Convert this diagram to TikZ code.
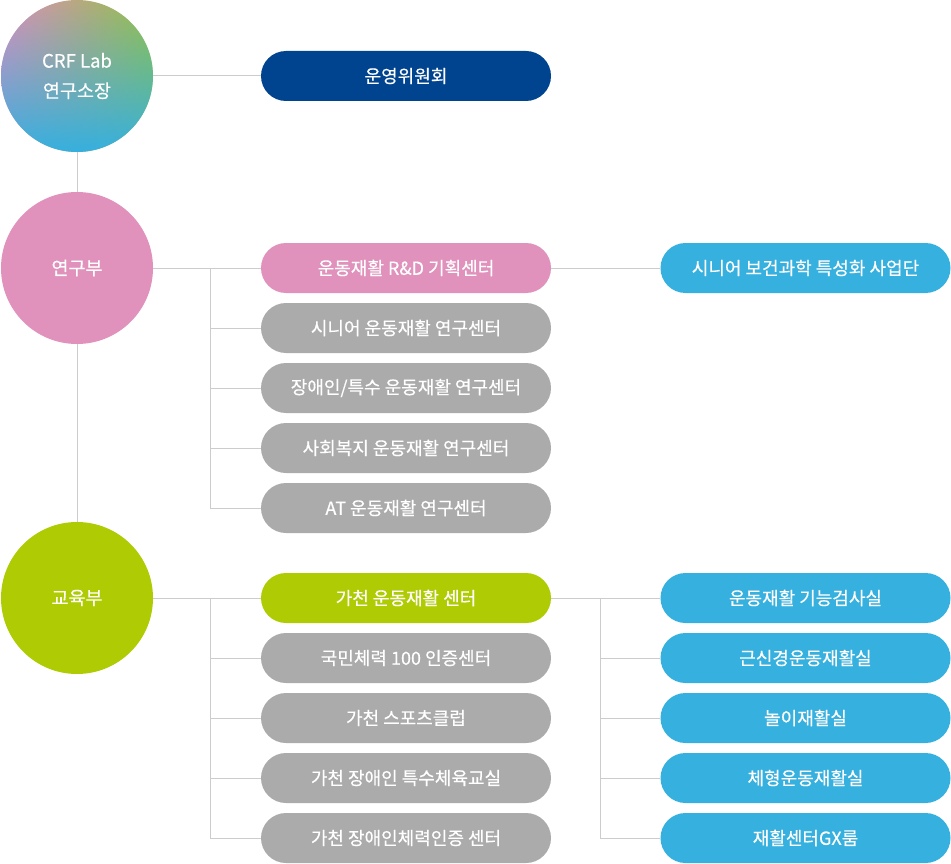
\documentclass[tikz,border=0pt]{standalone}
\usepackage{fontspec}
\setmainfont{Noto Sans CJK KR}[FakeBold=0.4]
\usetikzlibrary{fadings}
\definecolor{cline}{HTML}{CCCCCC}
\definecolor{cnavy}{HTML}{00438F}
\definecolor{cpink}{HTML}{E091BC}
\definecolor{cgray}{HTML}{ABABAB}
\definecolor{cgreen}{HTML}{AFCB03}
\definecolor{cblue}{HTML}{35B0DF}
\definecolor{gpink}{HTML}{E08DBE}
\definecolor{gmid}{HTML}{C9A48F}
\definecolor{ggreen}{HTML}{92C443}
\tikzfading[name=fadeup, top color=transparent!100, middle color=transparent!72, bottom color=transparent!0]
\begin{document}
\begin{tikzpicture}[x=1pt,y=-1pt,
  conn/.style={draw=cline, line width=1pt},
  pill/.style={rounded corners=25pt, minimum width=290pt, minimum height=50pt, inner sep=0pt, text=white, font=\fontsize{18}{20}\selectfont},
  circ/.style={circle, minimum size=152pt, inner sep=0pt, text=white, align=center, font=\fontsize{18.5}{30}\selectfont}]
\useasboundingbox (0,0) rectangle (951,864);
% gradient circle
\begin{scope}
  \clip (77,76) circle (76pt);
  \shade[left color=gpink, middle color=gmid, right color=ggreen] (0,0) rectangle (154,153);
  \fill[cblue, path fading=fadeup] (0,0) rectangle (154,153);
\end{scope}
\node[circ] (top) at (77,76) {CRF Lab\\연구소장};
\node[circ, fill=cpink] (res) at (77,268) {연구부};
\node[circ, fill=cgreen] (edu) at (77,598) {교육부};
% left column
\node[pill, fill=cnavy] (ops) at (406,76) {운영위원회};
\node[pill, fill=cpink] (rd) at (406,268) {운동재활 R\&D 기획센터};
\node[pill, fill=cgray] (r2) at (406,328) {시니어 운동재활 연구센터};
\node[pill, fill=cgray] (r3) at (406,388) {장애인/특수 운동재활 연구센터};
\node[pill, fill=cgray] (r4) at (406,448) {사회복지 운동재활 연구센터};
\node[pill, fill=cgray] (r5) at (406,508) {AT 운동재활 연구센터};
\node[pill, fill=cgreen] (e1) at (406,598) {가천 운동재활 센터};
\node[pill, fill=cgray] (e2) at (406,658) {국민체력 100 인증센터};
\node[pill, fill=cgray] (e3) at (406,718) {가천 스포츠클럽};
\node[pill, fill=cgray] (e4) at (406,778) {가천 장애인 특수체육교실};
\node[pill, fill=cgray] (e5) at (406,838) {가천 장애인체력인증 센터};
% right column
\node[pill, fill=cblue] (sen) at (805.5,268) {시니어 보건과학 특성화 사업단};
\node[pill, fill=cblue] (f1) at (805.5,598) {운동재활 기능검사실};
\node[pill, fill=cblue] (f2) at (805.5,658) {근신경운동재활실};
\node[pill, fill=cblue] (f3) at (805.5,718) {놀이재활실};
\node[pill, fill=cblue] (f4) at (805.5,778) {체형운동재활실};
\node[pill, fill=cblue] (f5) at (805.5,838) {재활센터GX룸};
% connectors
\draw[conn] (top) -- (ops);
\draw[conn] (top) -- (res);
\draw[conn] (res) -- (edu);
\draw[conn] (res) -- (rd);
\draw[conn] (rd) -- (sen);
\coordinate (b1) at (210,268);
\draw[conn] (b1) |- (r2.west);
\draw[conn] (b1) |- (r3.west);
\draw[conn] (b1) |- (r4.west);
\draw[conn] (b1) |- (r5.west);
\draw[conn] (edu) -- (e1);
\coordinate (b2) at (210,598);
\draw[conn] (b2) |- (e2.west);
\draw[conn] (b2) |- (e3.west);
\draw[conn] (b2) |- (e4.west);
\draw[conn] (b2) |- (e5.west);
\draw[conn] (e1) -- (f1);
\coordinate (b3) at (600,598);
\draw[conn] (b3) |- (f2.west);
\draw[conn] (b3) |- (f3.west);
\draw[conn] (b3) |- (f4.west);
\draw[conn] (b3) |- (f5.west);
\end{tikzpicture}
\end{document}
